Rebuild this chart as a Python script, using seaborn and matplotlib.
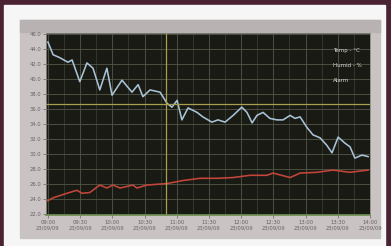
import numpy as np
import pandas as pd
import matplotlib
matplotlib.use('Agg')
import matplotlib.pyplot as plt
import seaborn as sns
from matplotlib.patches import Rectangle

# temperature trace (light blue), x in minutes from start
temp_x = [0, 1.6, 3.7, 6.2, 7.5, 9.9, 12.1, 14.0, 16.1, 18.3, 19.9, 23.0, 26.1, 28.0,
          29.5, 31.7, 34.8, 37.0, 38.5, 40.1, 41.6, 43.5, 46.3, 48.1, 50.9, 52.8, 55.0,
          57.5, 60.2, 61.8, 63.4, 64.9, 66.8, 68.9, 71.1, 73.0, 75.2, 76.7, 78.3, 80.4,
          82.3, 84.5, 86.6, 88.2, 90.1, 92.2, 93.8, 95.3, 97.5, 99.4]
temp_y = [44.9, 43.2, 42.8, 42.2, 42.5, 39.6, 42.1, 41.4, 38.5, 41.4, 37.8, 39.8, 38.2, 39.2,
          37.6, 38.5, 38.2, 36.7, 36.2, 37.1, 34.5, 36.1, 35.5, 34.9, 34.2, 34.5, 34.2,
          35.1, 36.2, 35.5, 34.1, 35.1, 35.5, 34.7, 34.5, 34.5, 35.1, 34.7, 34.9, 33.5,
          32.5, 32.1, 31.1, 30.1, 32.2, 31.4, 30.9, 29.4, 29.8, 29.6]

# humidity trace (red)
hum_x = [0, 1.6, 5.9, 9.0, 10.6, 13.0, 16.1, 18.3, 20.2, 22.4, 26.4, 27.6, 30.7, 37.0,
         41.9, 47.2, 52.5, 57.5, 62.7, 68.0, 69.9, 75.2, 78.3, 83.5, 88.5, 93.8, 99.4]
hum_y = [23.7, 24.1, 24.7, 25.1, 24.7, 24.8, 25.8, 25.4, 25.8, 25.4, 25.8, 25.4, 25.8, 26.0,
         26.4, 26.7, 26.7, 26.8, 27.1, 27.1, 27.4, 26.8, 27.4, 27.5, 27.8, 27.5, 27.8]

alarm_level = 36.6
cursor_x = 36.6

y_ticks = [46, 44, 42, 40, 38, 36, 34, 32, 30, 28, 26, 24, 22]
x_ticks = [0, 10, 20, 30, 40, 50, 60, 70, 80, 90, 100]
x_times = ['09:00', '09:30', '10:00', '10:30', '11:00', '11:30', '12:00',
           '12:30', '13:00', '13:30', '14:00']
x_date = '23/09/09'
legend_names = ['Temp - °C', 'Humid - %', 'Alarm']

df = pd.concat([
    pd.DataFrame({'t': temp_x, 'v': temp_y, 's': 'temp'}),
    pd.DataFrame({'t': hum_x, 'v': hum_y, 's': 'humid'}),
])

W, H = 391, 246
fig = plt.figure(figsize=(W / 100, H / 100), dpi=100, facecolor='#4b2232')

# photo framing: white border and grey screen panel
fig.patches.append(Rectangle((4 / W, 0), (385 - 4) / W, 1 - 5 / H,
                             transform=fig.transFigure, color='#f7f6f6', zorder=-3))
fig.patches.append(Rectangle((20 / W, 1 - 238 / H), (380 - 20) / W, (238 - 20) / H,
                             transform=fig.transFigure, color='#c9c3c3', zorder=-2))
fig.patches.append(Rectangle((20 / W, 1 - 32 / H), (380 - 20) / W, 12 / H,
                             transform=fig.transFigure, color='#b8b2b2', zorder=-1))

ax = fig.add_axes([46 / W, 1 - 215 / H, (370 - 46) / W, (215 - 33) / H])
ax.set_zorder(2)
ax.set_facecolor('#191a14')

sns.lineplot(data=df, x='t', y='v', hue='s', palette={'temp': '#a9c3d6', 'humid': '#c4463b'},
             linewidth=1.15, legend=False, ax=ax)

ax.set_xlim(-0.6, 100)
ax.set_ylim(21.8, 46.1)
ax.set_xticks(x_ticks)
ax.set_xticklabels([f'{t}\n{x_date}' for t in x_times])
ax.set_yticks(y_ticks)
ax.set_yticklabels([f'{v:.1f}' for v in y_ticks])
ax.set_xticks(np.arange(5, 100, 10), minor=True)
ax.grid(True, which='major', color='#525846', linewidth=0.6)
ax.grid(True, which='minor', axis='x', color='#3e4234', linewidth=0.5)
ax.tick_params(labelsize=3.8, colors='#6a6262', length=2, width=0.5, pad=1.5)
ax.tick_params(which='minor', length=0)
ax.set_xlabel('')
ax.set_ylabel('')
for side in ['top', 'left', 'right']:
    ax.spines[side].set_color('#8a8a80')
    ax.spines[side].set_linewidth(0.6)
ax.spines['bottom'].set_color('#6b8a50')
ax.spines['bottom'].set_linewidth(1.2)

ax.axhline(alarm_level, color='#a8a050', linewidth=0.9)
ax.axvline(cursor_x, color='#a8a050', linewidth=0.9)

for i, name in enumerate(legend_names):
    ax.text(0.885, 0.905 - i * 0.083, name, transform=ax.transAxes,
            fontsize=4, color='#d8d8d8', va='center')

fig.savefig('out.png', dpi=100, facecolor=fig.get_facecolor())
